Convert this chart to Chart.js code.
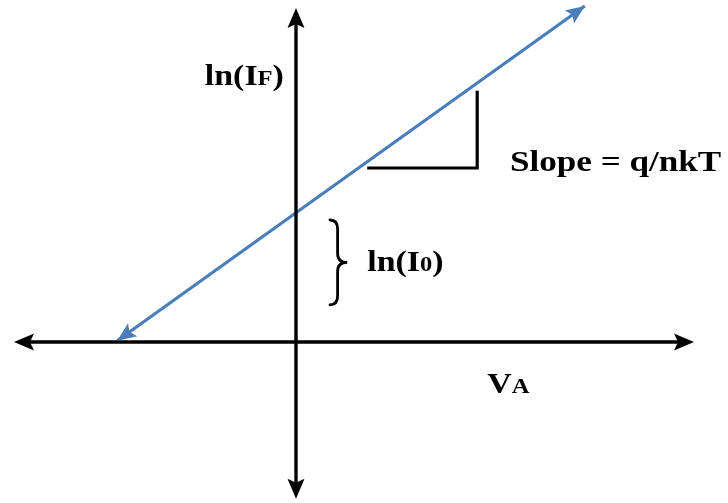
<!DOCTYPE html>
<html>
<head>
<meta charset="utf-8">
<script src="https://cdn.jsdelivr.net/npm/chart.js@4/dist/chart.umd.min.js"></script>
<style>
  html, body { margin: 0; padding: 0; background: #fff; }
  #diodeChart { display: block; }
</style>
</head>
<body>
<canvas id="diodeChart" width="728" height="503"></canvas>
<script>
// Forward-biased diode: ln(I_F) against V_A
const vA = [-4.47, 7.22];
const lnIF = [0.03, 8.4];

// axis extents (data units)
const xAxisEnds = [-7.05, 9.95];
const yAxisEnds = [-3.92, 8.35];

// slope triangle corners
const triX = [1.78, 4.53, 4.53];
const triY = [4.35, 4.35, 6.28];

// brace beside the intercept
const braceX = [0.85, 1.28];
const braceY = [0.93, 3.05];

// labels: [x, y, parts]
const labels = [
  [-2.28, 6.43, [['ln(I', 29], ['F', 21], [')', 29]]],
  [1.78, 1.78, [['ln(I', 29], ['0', 21], [')', 29]]],
  [5.35, 4.28, [['Slope = q/nkT', 30]]],
  [4.78, -1.27, [['V', 29], ['A', 21]]]
];

const blue = '#4a7ebb';
const textStretch = 1.17;
const serif = '"Liberation Serif", "Times New Roman", serif';

function arrowHead(ctx, x1, y1, x2, y2, len, half, color) {
  const a = Math.atan2(y2 - y1, x2 - x1);
  ctx.save();
  ctx.fillStyle = color;
  ctx.translate(x2, y2);
  ctx.rotate(a);
  ctx.beginPath();
  ctx.moveTo(0, 0);
  ctx.lineTo(-len, -half);
  ctx.lineTo(-len * 0.8, 0);
  ctx.lineTo(-len, half);
  ctx.closePath();
  ctx.fill();
  ctx.restore();
}

const diagramPlugin = {
  id: 'diagram',
  afterDatasetsDraw(chart) {
    const { ctx, scales: { x, y } } = chart;
    const ox = x.getPixelForValue(0), oy = y.getPixelForValue(0);

    // arrow heads on the axes
    const xl = x.getPixelForValue(xAxisEnds[0]), xr = x.getPixelForValue(xAxisEnds[1]);
    const yb = y.getPixelForValue(yAxisEnds[0]), yt = y.getPixelForValue(yAxisEnds[1]);
    arrowHead(ctx, ox, oy, xl, oy, 20, 8.5, '#000');
    arrowHead(ctx, ox, oy, xr, oy, 20, 8.5, '#000');
    arrowHead(ctx, ox, oy, ox, yt, 20, 8.5, '#000');
    arrowHead(ctx, ox, oy, ox, yb, 20, 8.5, '#000');

    // arrow heads on the blue line
    const p0 = [x.getPixelForValue(vA[0]), y.getPixelForValue(lnIF[0])];
    const p1 = [x.getPixelForValue(vA[1]), y.getPixelForValue(lnIF[1])];
    arrowHead(ctx, p1[0], p1[1], p0[0], p0[1], 19, 8, blue);
    arrowHead(ctx, p0[0], p0[1], p1[0], p1[1], 19, 8, blue);

    // curly brace
    const x0 = x.getPixelForValue(braceX[0]), xt = x.getPixelForValue(braceX[1]);
    const xm = (x0 + xt) / 2 - 1;
    const top = y.getPixelForValue(braceY[1]), bot = y.getPixelForValue(braceY[0]);
    const mid = (top + bot) / 2;
    ctx.save();
    ctx.strokeStyle = '#000';
    ctx.lineWidth = 2.8;
    ctx.lineCap = 'round';
    ctx.beginPath();
    ctx.moveTo(x0, top);
    ctx.quadraticCurveTo(xm, top, xm, top + 9);
    ctx.lineTo(xm, mid - 9);
    ctx.quadraticCurveTo(xm, mid, xt, mid);
    ctx.quadraticCurveTo(xm, mid, xm, mid + 9);
    ctx.lineTo(xm, bot - 9);
    ctx.quadraticCurveTo(xm, bot, x0, bot);
    ctx.stroke();
    ctx.restore();

    // labels
    ctx.save();
    ctx.fillStyle = '#000';
    ctx.textBaseline = 'alphabetic';
    labels.forEach(([lx, ly, parts]) => {
      ctx.save();
      ctx.translate(x.getPixelForValue(lx), y.getPixelForValue(ly));
      ctx.scale(textStretch, 1);
      let cx = 0;
      parts.forEach(([t, size]) => {
        ctx.font = 'bold ' + size + 'px ' + serif;
        ctx.fillText(t, cx, 0);
        cx += ctx.measureText(t).width;
      });
      ctx.restore();
    });
    ctx.restore();
  }
};

const lineStyle = { showLine: true, pointRadius: 0, fill: false, tension: 0 };

function drawChart() {
  new Chart(document.getElementById('diodeChart'), {
    type: 'scatter',
    data: {
      datasets: [
        Object.assign({
          data: xAxisEnds.map(v => ({ x: v * 0.97, y: 0 })),
          borderColor: '#000', borderWidth: 3.4
        }, lineStyle),
        Object.assign({
          data: yAxisEnds.map(v => ({ x: 0, y: v * 0.97 })),
          borderColor: '#000', borderWidth: 3.4
        }, lineStyle),
        Object.assign({
          data: triX.map((v, i) => ({ x: v, y: triY[i] })),
          borderColor: '#000', borderWidth: 3.2, borderJoinStyle: 'miter'
        }, lineStyle),
        Object.assign({
          data: vA.map((v, i) => ({ x: v, y: lnIF[i] })),
          borderColor: blue, borderWidth: 3.2
        }, lineStyle)
      ]
    },
    options: {
      responsive: false,
      animation: false,
      layout: { padding: 0 },
      plugins: { legend: { display: false }, tooltip: { enabled: false } },
      scales: {
        x: { type: 'linear', min: -7.4, max: 10.8, display: false },
        y: { type: 'linear', min: -4.025, max: 8.55, display: false }
      }
    },
    plugins: [diagramPlugin]
  });
}

// make sure the serif face is ready before the canvas text is drawn
Promise.all([
  document.fonts.load('bold 29px ' + serif),
  document.fonts.load('bold 21px ' + serif)
]).then(drawChart, drawChart);
</script>
</body>
</html>
